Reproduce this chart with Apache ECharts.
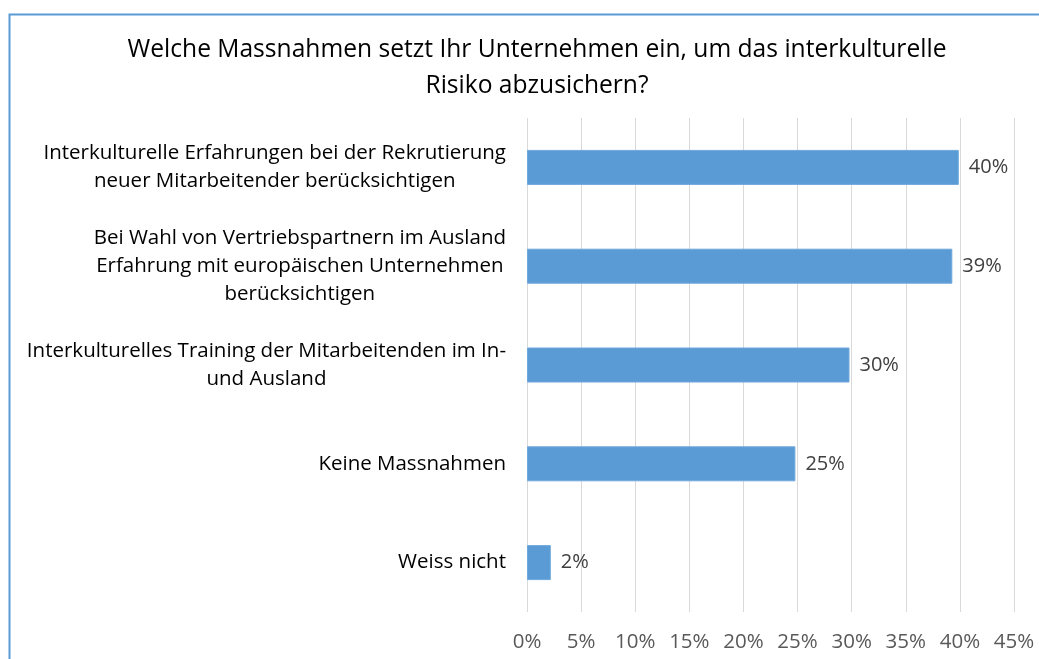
<!DOCTYPE html>
<html>
<head>
<meta charset="utf-8">
<script src="https://cdn.jsdelivr.net/npm/echarts@6/dist/echarts.min.js"></script>
<style>
  html, body { margin: 0; padding: 0; background: #fff; overflow: hidden; }
  #chart { width: 1039px; height: 659px; }
</style>
</head>
<body>
<div id="chart"></div>
<script>
// categories from top to bottom
const categories = [
  "Interkulturelle Erfahrungen bei der Rekrutierung\nneuer Mitarbeitender berücksichtigen",
  "Bei Wahl von Vertriebspartnern im Ausland\nErfahrung mit europäischen Unternehmen\nberücksichtigen",
  "Interkulturelles Training der Mitarbeitenden im In-\nund Ausland",
  "Keine Massnahmen",
  "Weiss nicht"
];
// shares in percent
const shares = [39.9, 39.3, 29.8, 24.8, 2.2];
const xTicks = { min: 0, max: 45, step: 5 };
const titleText = "Welche Massnahmen setzt Ihr Unternehmen ein, um das interkulturelle\nRisiko abzusichern?";

const font = "Open Sans";
const chart = echarts.init(document.getElementById("chart"));

const option = {
  animation: false,
  backgroundColor: "#fff",
  title: {
    text: titleText,
    left: 532,
    top: 27,
    textAlign: "center",
    textStyle: {
      fontFamily: font,
      fontSize: 24.6,
      fontWeight: "normal",
      color: "#000",
      lineHeight: 36
    }
  },
  graphic: [
    {
      type: "rect",
      silent: true,
      shape: { x: 9.5, y: 14.5, width: 1100, height: 700 },
      style: { fill: "none", stroke: "#5B9BD5", lineWidth: 2 }
    }
  ],
  grid: {
    left: 527,
    right: 25,
    top: 118,
    bottom: 47,
    containLabel: false
  },
  xAxis: {
    type: "value",
    min: xTicks.min,
    max: xTicks.max,
    interval: xTicks.step,
    axisLine: { show: false },
    axisTick: { show: false },
    splitLine: { show: true, lineStyle: { color: "#D9D9D9", width: 1 } },
    axisLabel: {
      formatter: v => v + "%",
      fontFamily: font,
      fontSize: 20.5,
      color: "#595959",
      margin: 20
    }
  },
  yAxis: {
    type: "category",
    inverse: true,
    data: categories,
    axisLine: { show: false },
    axisTick: { show: false },
    axisLabel: {
      margin: 21,
      align: "right",
      formatter: v => v.split("\n").map(l => "{c|" + l + "}").join("\n"),
      rich: {
        c: {
          align: "center",
          fontFamily: font,
          fontSize: 20.5,
          color: "#000",
          lineHeight: 28
        }
      }
    }
  },
  series: [
    {
      type: "bar",
      data: shares,
      barWidth: 35,
      itemStyle: { color: "#5B9BD5", borderColor: "#6FA8DC", borderWidth: 1 },
      label: {
        show: true,
        position: "right",
        distance: 10,
        formatter: p => Math.round(p.value) + "%",
        fontFamily: font,
        fontSize: 20,
        color: "#404040"
      }
    }
  ]
};

chart.setOption(option);
</script>
</body>
</html>
